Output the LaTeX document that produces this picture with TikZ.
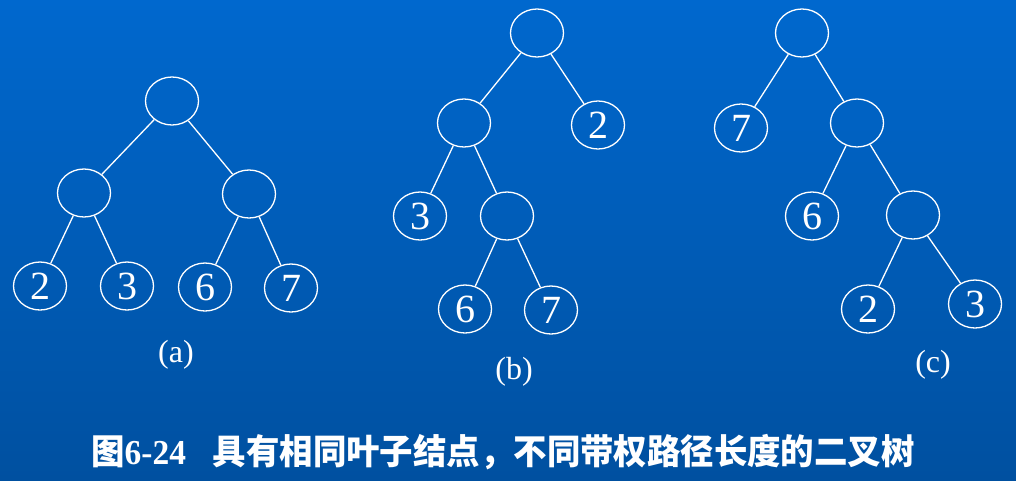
\documentclass[tikz,border=0pt]{standalone}
\usepackage{fontspec}
\setmainfont{Liberation Serif}
\newfontfamily\cjk{Noto Sans CJK SC}
\usetikzlibrary{shapes, positioning}
\definecolor{bgtop}{RGB}{0,104,206}
\definecolor{bgbot}{RGB}{0,80,160}
\tikzstyle{vertex}=[draw=white,ellipse,line width=1.3pt,minimum width=53pt,minimum height=48pt,inner sep=0pt,text=white,font=\fontsize{40}{40}\selectfont]
\tikzstyle{edge}=[draw=white,line width=1.3pt]
\tikzstyle{tag}=[text=white,font=\fontsize{32}{32}\selectfont]

\begin{document}
\begin{tikzpicture}[x=1pt,y=-1pt]
  \useasboundingbox (0,0) rectangle (1016,480);
  \shade[top color=bgtop,bottom color=bgbot] (0,0) rectangle (1016,480);
  % tree (a)
  \node[vertex] (a0) at (172,101) {};
  \node[vertex] (a1) at (84,193) {};
  \node[vertex] (a2) at (249,194) {};
  \node[vertex] (a3) at (40,286) {2};
  \node[vertex] (a4) at (127,286) {3};
  \node[vertex] (a5) at (205,287) {6};
  \node[vertex] (a6) at (291,288) {7};
  \node[tag] (la) at (176,355) {(a)};
  \foreach \p/\c in {a0/a1,a0/a2,a1/a3,a1/a4,a2/a5,a2/a6}
    \draw[edge] (\p) -- (\c);
  % tree (b)
  \node[vertex] (b0) at (537,33) {};
  \node[vertex] (b1) at (464,123) {};
  \node[vertex] (b2) at (598,125) {2};
  \node[vertex] (b3) at (420,216) {3};
  \node[vertex] (b4) at (507,216) {};
  \node[vertex] (b5) at (465,309) {6};
  \node[vertex] (b6) at (551,310) {7};
  \node[tag] (lb) at (514,372) {(b)};
  \foreach \p/\c in {b0/b1,b0/b2,b1/b3,b1/b4,b4/b5,b4/b6}
    \draw[edge] (\p) -- (\c);
  % tree (c)
  \node[vertex] (c0) at (802,33) {};
  \node[vertex] (c1) at (741,128) {7};
  \node[vertex] (c2) at (857,123) {};
  \node[vertex] (c3) at (812,216) {6};
  \node[vertex] (c4) at (913,215) {};
  \node[vertex] (c5) at (868,309) {2};
  \node[vertex] (c6) at (975,304) {3};
  \node[tag] (lc) at (933,365) {(c)};
  \foreach \p/\c in {c0/c1,c0/c2,c2/c3,c2/c4,c4/c5,c4/c6}
    \draw[edge] (\p) -- (\c);
  % caption
  \node[text=white,font=\fontsize{35}{35}\selectfont\bfseries,xscale=0.955,transform shape] (cap) at (503,452)
    {{\cjk 图}6-24\hspace{0.8em}{\cjk 具有相同叶子结点，不同带权路径长度的二叉树}};
\end{tikzpicture}
\end{document}
